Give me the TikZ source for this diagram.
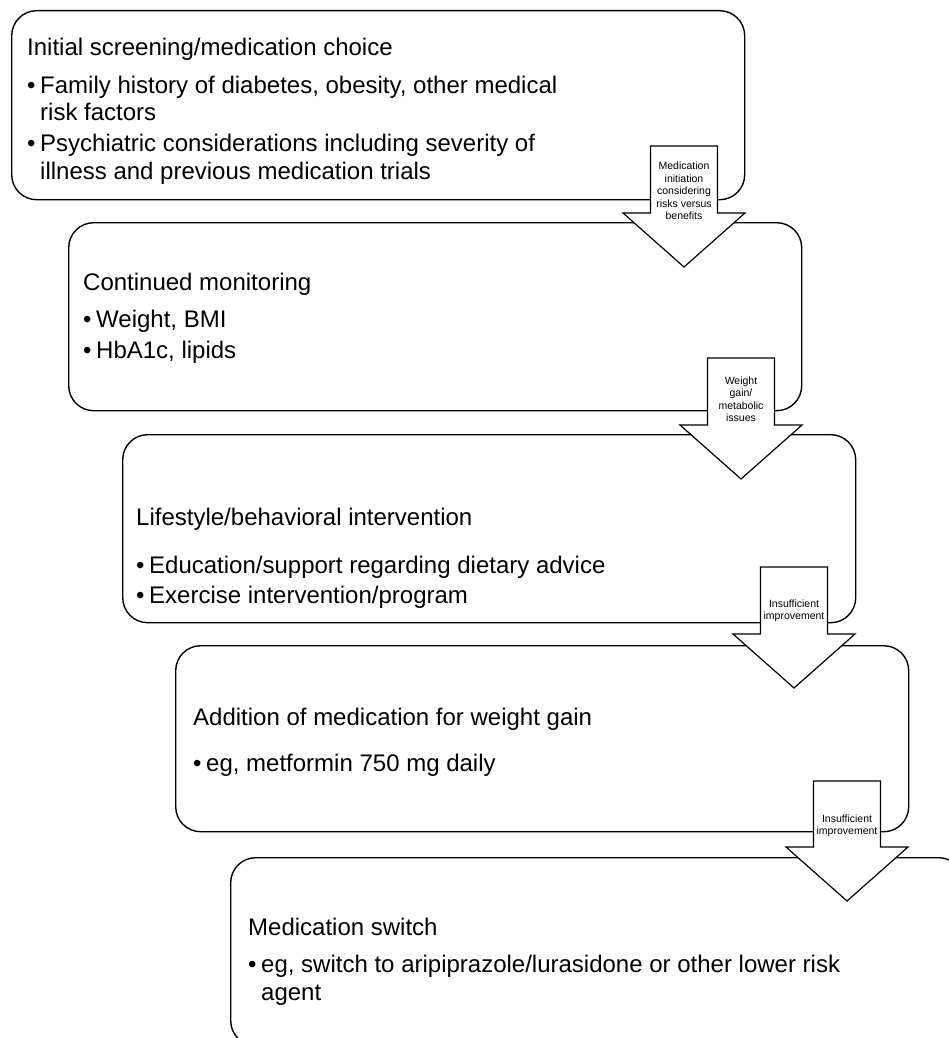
\documentclass[tikz,border=0pt]{standalone}
\usepackage{fontspec}
\setmainfont{Liberation Sans}
\begin{document}
\begin{tikzpicture}[x=1pt,y=-1pt,
  box/.style={draw, line width=1.4pt, rounded corners=25pt, minimum width=733pt, minimum height=188pt, anchor=north west, inner sep=0pt},
  ttl/.style={anchor=base west, inner sep=0pt, font=\fontsize{24}{28}\selectfont},
  blockarrow/.style={draw, line width=1.2pt, fill=white, line join=miter},
  alabel/.style={align=center, inner sep=0pt, font=\fontsize{10.5}{12.5}\selectfont}]
\useasboundingbox (0,0) rectangle (949,1038);
\clip (0,0) rectangle (949,1038);
\newcommand\blkarrow[4]{\draw[blockarrow] (#1-33.5,#2) -- (#1+33.5,#2) -- (#1+33.5,#3) -- (#1+61,#3) -- (#1,#4) -- (#1-61,#3) -- (#1-33.5,#3) -- cycle;}
% boxes
\node[box, minimum height=189pt] (b1) at (11,10) {};
\node[box] (b2) at (68,222) {};
\node[box] (b3) at (122,434) {};
\node[box, minimum height=186pt] (b4) at (175,645) {};
\node[box] (b5) at (230,857) {};
% box texts
\node[ttl] (t1) at (27,56) {Initial screening/medication choice};
\node[ttl] (t1a) at (27,94) {•\hspace{4.6pt}Family history of diabetes, obesity, other medical};
\node[ttl] (t1b) at (40,121) {risk factors};
\node[ttl] (t1c) at (27,151) {•\hspace{4.6pt}Psychiatric considerations including severity of};
\node[ttl] (t1d) at (40,179) {illness and previous medication trials};
\node[ttl] (t2) at (83,290) {Continued monitoring};
\node[ttl] (t2a) at (83,327) {•\hspace{4.6pt}Weight, BMI};
\node[ttl] (t2b) at (83,358) {•\hspace{4.6pt}HbA1c, lipids};
\node[ttl] (t3) at (136,525) {Lifestyle/behavioral intervention};
\node[ttl] (t3a) at (136,573) {•\hspace{4.6pt}Education/support regarding dietary advice};
\node[ttl] (t3b) at (136,603) {•\hspace{4.6pt}Exercise intervention/program};
\node[ttl] (t4) at (193,725) {Addition of medication for weight gain};
\node[ttl] (t4a) at (193,771) {•\hspace{4.6pt}eg, metformin 750 mg daily};
\node[ttl] (t5) at (248,935) {Medication switch};
\node[ttl] (t5a) at (248,972) {•\hspace{4.6pt}eg, switch to aripiprazole/lurasidone or other lower risk};
\node[ttl] (t5b) at (261,1000) {agent};
% block arrows
\blkarrow{684}{146}{213}{267}
\blkarrow{741}{358}{425}{479}
\blkarrow{794}{567}{634}{688}
\blkarrow{847}{781}{847}{901}
\node[alabel] (a1) at (684,191) {Medication\\initiation\\considering\\risks versus\\benefits};
\node[alabel] (a2) at (741,399) {Weight\\gain/\\metabolic\\issues};
\node[alabel] (a3) at (794,611) {Insufficient\\improvement};
\node[alabel] (a4) at (847,826) {Insufficient\\improvement};
\end{tikzpicture}
\end{document}
